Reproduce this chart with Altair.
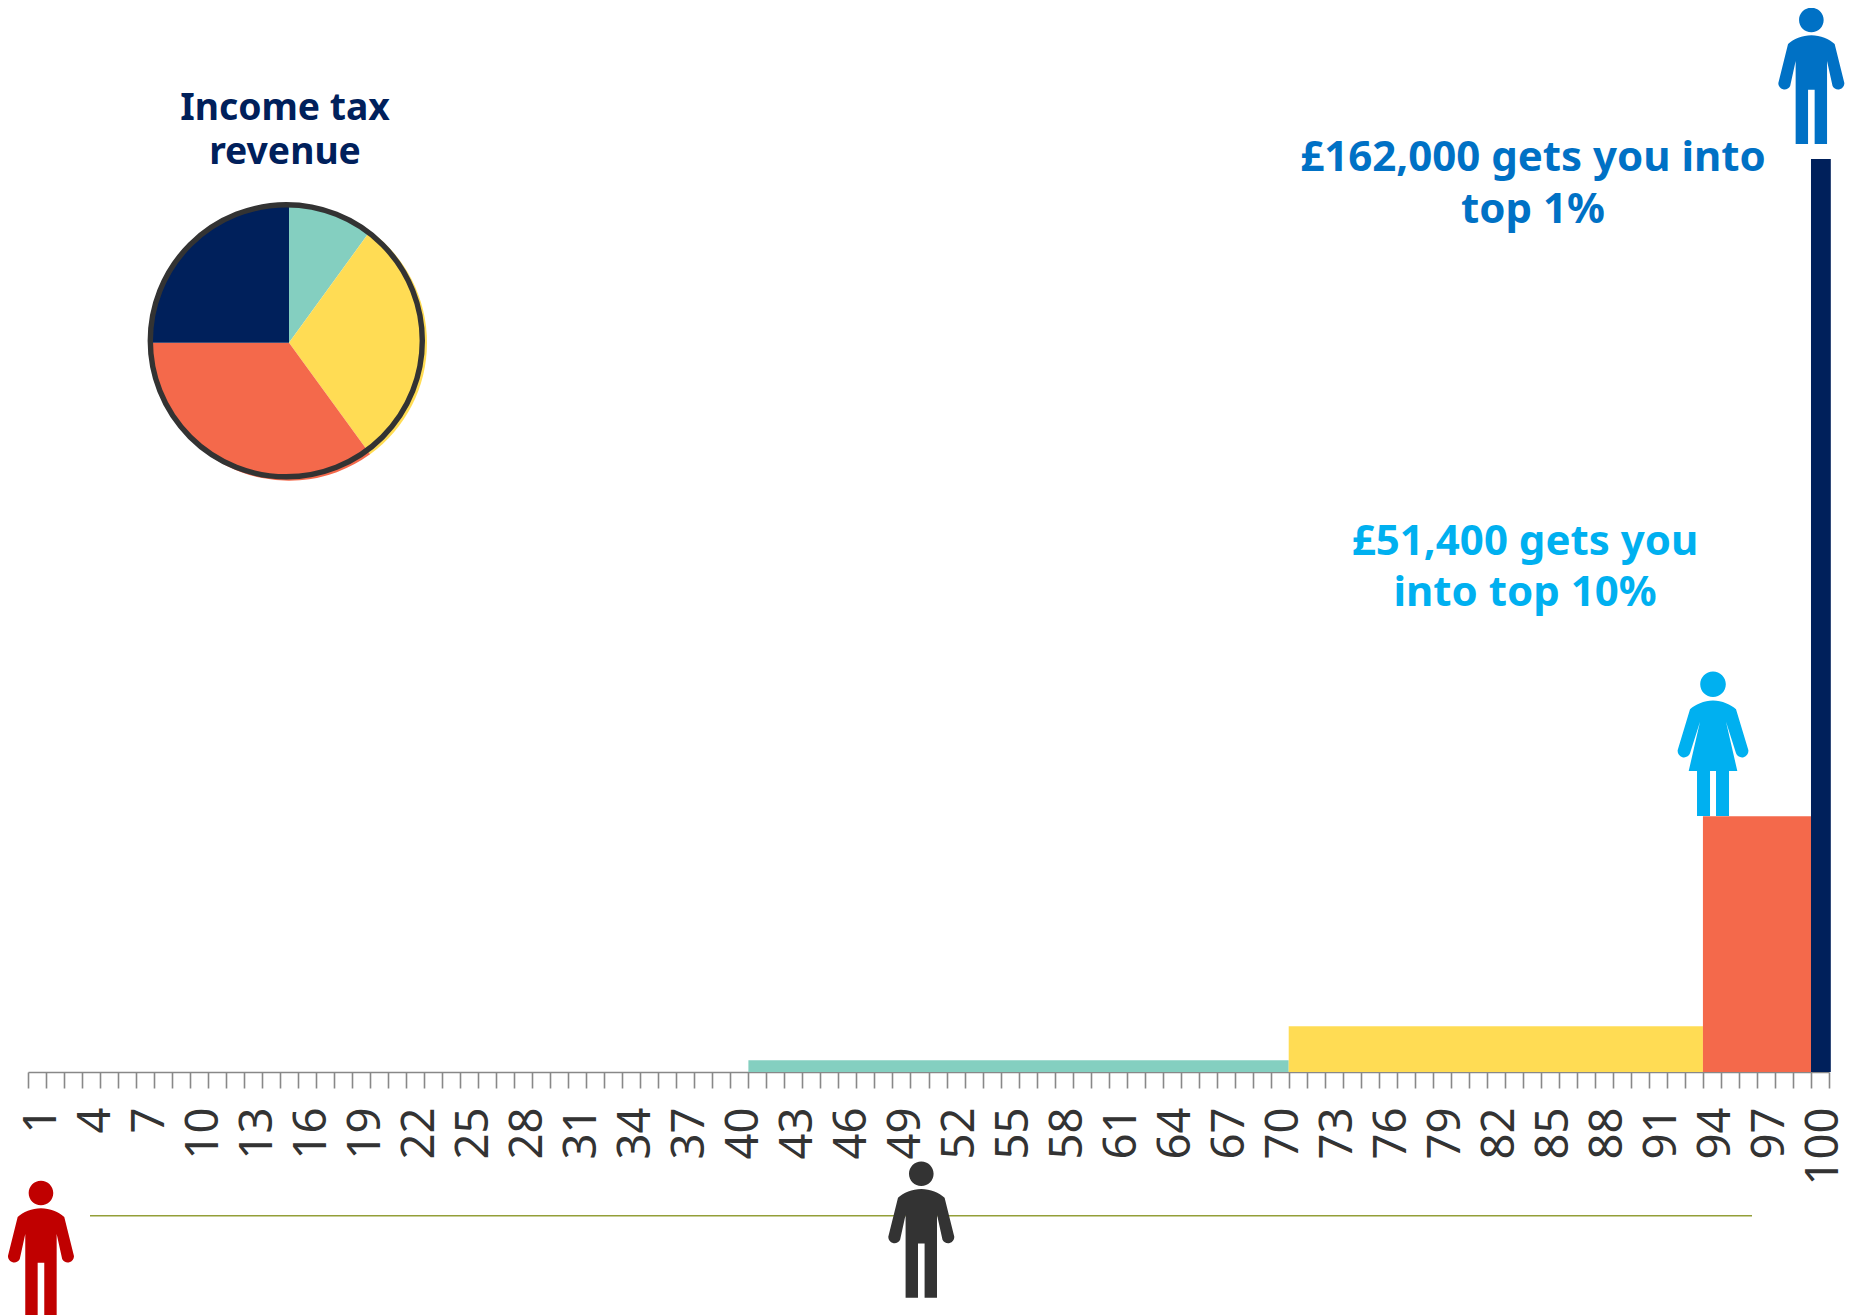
import altair as alt
import pandas as pd

# Percentile bands of the bar chart
band_start = [40, 70, 93, 99]
band_end = [70, 93, 99, 100.1]
band_height = [1.3, 5.0, 28.0, 100.0]
band_color = ["#84CFC0", "#FFDC54", "#F4694B", "#00205B"]

# Income tax revenue pie
pie_share = [10, 30, 35, 25]
pie_color = ["#84CFC0", "#FFDC54", "#F4694B", "#00205B"]

# Figures: percentile position and colours
man_pos = [0.72, 49.6, 99.02]
man_color = ["#C00000", "#333333", "#0071C5"]
man_py = [1249, 1229.7, 76]
woman_pos = [93.56]
woman_color = ["#00B0F0"]
woman_py = [743.8]

tick_values = list(range(0, 101))

OX, OY = 28, 159   # page position of plot origin (inside the svg, 8px page margin)
W, H = 1801, 913
PAD_L, PAD_T = OX - 8, OY - 8
SVG_W, SVG_H = 1837, 1307


def px(v):
    return v - OX


def py(v):
    return v - OY


MAN = ("M-12.3,-56A12.3,12.3 0 1,1 12.3,-56A12.3,12.3 0 1,1 -12.3,-56Z"
       "M0,-40.7C9,-40.7 18,-37 23.3,-32L33,7A6.2,6.2 0 0,1 21.2,10L15.7,-15L15.7,68L3.3,68L3.3,13.7"
       "L-3.3,13.7L-3.3,68L-15.7,68L-15.7,-15L-21.2,10A6.2,6.2 0 0,1 -33,7L-23.3,-32C-18,-37 -9,-40.7 0,-40.7Z")
WOMAN = ("M-12.8,-59.5A12.8,12.8 0 1,1 12.8,-59.5A12.8,12.8 0 1,1 -12.8,-59.5Z"
         "M0,-43.2C9,-43.2 18,-39 23,-34.5L35.3,6.2A6.4,6.4 0 0,1 23,9.5L13,-22L24.3,27.2L16,27.2L16,72.2L3,72.2L3,27.2"
         "L-3,27.2L-3,72.2L-16,72.2L-16,27.2L-24.3,27.2L-13,-22L-23,9.5A6.4,6.4 0 0,1 -35.3,6.2L-23,-34.5C-18,-39 -9,-43.2 0,-43.2Z")

x_scale = alt.Scale(domain=[0, 100], nice=False, zero=False)
y_scale = alt.Scale(domain=[0, 100], nice=False)
x_axis = alt.Axis(
    values=tick_values, tickCount=300, title=None, grid=False, domainColor="#888888", domainWidth=1.7,
    tickColor="#888888", tickWidth=1.6, tickSize=16, labelFont="Noto Sans", labelFontSize=45.5,
    labelColor="#333333", labelAngle=270, labelAlign="right", labelBaseline="middle", labelPadding=19,
    labelOffset=13, labelOverlap=False, labelBound=False, labelFlush=False,
    labelExpr="datum.value % 3 === 0 ? format(datum.value + 1, 'd') : ''")

bars_df = pd.DataFrame({"start": band_start, "end": band_end, "h": band_height, "c": band_color})
bars = alt.Chart(bars_df).mark_rect().encode(
    x=alt.X("start:Q", scale=x_scale, axis=x_axis),
    x2="end:Q",
    y=alt.Y("h:Q", scale=y_scale, axis=None),
    y2=alt.datum(0),
    color=alt.Color("c:N", scale=None),
)

pie_df = pd.DataFrame({"v": pie_share, "c": pie_color, "i": range(len(pie_share))})
pie = alt.Chart(pie_df).mark_arc(radius=138).encode(
    theta=alt.Theta("v:Q", stack=True),
    order=alt.Order("i:Q"),
    color=alt.Color("c:N", scale=None),
    x=alt.value(px(289)),
    y=alt.value(py(342.7)),
)
ring = alt.Chart(pd.DataFrame({"a": [0]})).mark_point(
    shape="circle", filled=False, size=272 ** 2, stroke="#333333", strokeWidth=5.4, opacity=1
).encode(x=alt.value(px(286.3)), y=alt.value(py(340.8)))

line = alt.Chart(pd.DataFrame({"a": [0]})).mark_rule(color="#939F38", strokeWidth=1.6).encode(
    x=alt.value(px(90)), x2=alt.value(px(1752)), y=alt.value(py(1215.7))
)


def figures(pos, colors, pys, shape):
    layers = []
    for p, c, y in zip(pos, colors, pys):
        layers.append(
            alt.Chart(pd.DataFrame({"p": [p]})).mark_point(
                shape=shape, size=4, filled=True, color=c, opacity=1, strokeWidth=0
            ).encode(x=alt.X("p:Q", scale=x_scale, axis=x_axis), y=alt.value(py(y)))
        )
    return layers


def text(lines, x, ys, color, size):
    return [
        alt.Chart(pd.DataFrame({"t": [t]})).mark_text(
            font="Noto Sans", fontWeight="bold", fontSize=size, color=color, align="center", baseline="middle"
        ).encode(text="t:N", x=alt.value(px(x)), y=alt.value(py(y)))
        for t, y in zip(lines, ys)
    ]


labels = (
    text(["Income tax", "revenue"], 285, [108.5, 152.5], "#00205B", 37.3)
    + text(["£162,000 gets you into", "top 1%"], 1533, [158.4, 210.4], "#0071C5", 42)
    + text(["£51,400 gets you", "into top 10%"], 1525, [542.4, 593.4], "#00B0F0", 42)
)

chart = alt.layer(
    bars, pie, ring, line,
    *figures(man_pos, man_color, man_py, MAN),
    *figures(woman_pos, woman_color, woman_py, WOMAN),
    *labels,
).resolve_scale(color="independent", theta="independent").properties(
    width=W, height=H,
    padding={"left": PAD_L, "top": PAD_T, "right": SVG_W - PAD_L - W, "bottom": SVG_H - PAD_T - H},
    autosize=alt.AutoSizeParams(type="none"),
    background="#FFFFFF",
).configure_view(stroke=None)

chart.save("out.html", embed_options={"renderer": "svg", "actions": False})
